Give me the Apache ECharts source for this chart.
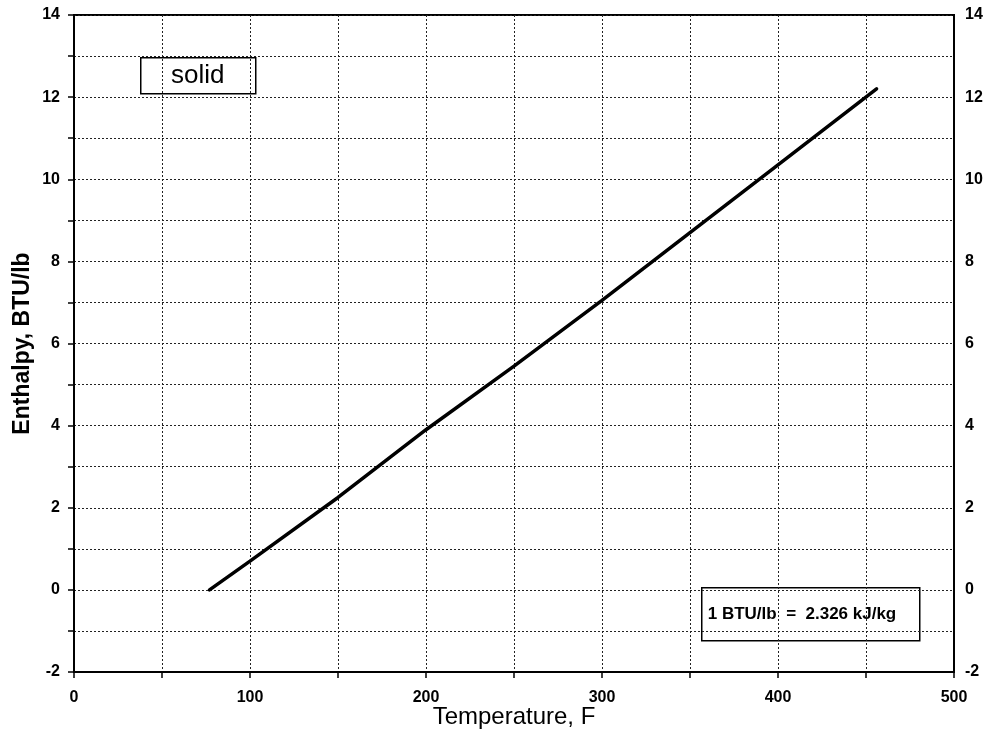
<!DOCTYPE html>
<html>
<head>
<meta charset="utf-8">
<script src="https://cdn.jsdelivr.net/npm/echarts@6/dist/echarts.min.js"></script>
<style>
	html, body { margin: 0; padding: 0; background: #fff; }
	#chart { width: 993px; height: 733px; }
</style>
</head>
<body>
<div id="chart"></div>
<script>
// values
const temperature = [77, 100, 150, 200, 250, 300, 350, 400, 456];
const enthalpy = [0, 0.7, 2.25, 3.9, 5.45, 7.05, 8.7, 10.35, 12.2];

const xMin = 0, xMax = 500, xStep = 50, xLabelStep = 100;
const yMin = -2, yMax = 14, yStep = 1, yLabelStep = 2;

const font = '"Liberation Sans", Arial, sans-serif';

let myChart = echarts.init(document.getElementById('chart'));

const gridLine = {
	show: true,
	lineStyle: { color: '#222', width: 1, type: [2, 2] }
};

function yLabel(v) {
	return (Math.round(v) % yLabelStep === 0) ? String(v) : '';
}

let option = {
	animation: false,
	grid: {
		left: 74, right: 39, top: 15, bottom: 61,
		outerBoundsMode: 'none',
		containLabel: false,
		show: true, borderColor: '#000', borderWidth: 2
	},
	xAxis: [{
		type: 'value',
		min: xMin, max: xMax, interval: xStep,
		name: 'Temperature, F',
		nameLocation: 'middle',
		nameGap: 33,
		nameMoveOverlap: false,
		nameTextStyle: { fontFamily: font, fontSize: 24, color: '#000' },
		axisLine: { show: true, onZero: false, lineStyle: { color: '#000', width: 2 } },
		axisTick: { show: true, length: 6, lineStyle: { color: '#000', width: 1.5 } },
		axisLabel: {
			fontFamily: font, fontSize: 16, fontWeight: 'bold', color: '#000', margin: 18,
			formatter: v => (v % xLabelStep === 0) ? String(v) : ''
		},
		splitLine: gridLine
	}],
	yAxis: [{
		type: 'value',
		min: yMin, max: yMax, interval: yStep,
		name: 'Enthalpy, BTU/lb',
		nameLocation: 'middle',
		nameGap: 40,
		nameMoveOverlap: false,
		nameTextStyle: { fontFamily: font, fontSize: 23, fontWeight: 'bold', color: '#000' },
		axisLine: { show: true, onZero: false, lineStyle: { color: '#000', width: 2 } },
		axisTick: { show: true, length: 6, lineStyle: { color: '#000', width: 1.5 } },
		axisLabel: {
			fontFamily: font, fontSize: 16, fontWeight: 'bold', color: '#000', margin: 14,
			formatter: yLabel
		},
		splitLine: gridLine
	}, {
		type: 'value',
		position: 'right',
		min: yMin, max: yMax, interval: yStep,
		axisLine: { show: true, onZero: false, lineStyle: { color: '#000', width: 2 } },
		axisTick: { show: false },
		axisLabel: {
			fontFamily: font, fontSize: 16, fontWeight: 'bold', color: '#000', margin: 11,
			formatter: yLabel
		},
		splitLine: { show: false }
	}],
	series: [{
		type: 'line',
		data: temperature.map((t, i) => [t, enthalpy[i]]),
		showSymbol: false,
		smooth: false,
		lineStyle: { color: '#000', width: 3.5, cap: 'round' }
	}],
	graphic: [
		{
			type: 'group', left: 140, top: 57,
			children: [
				{ type: 'rect', shape: { x: 0, y: 0, width: 115, height: 36 },
					style: { fill: '#fff', stroke: '#000', lineWidth: 1.5 } },
				{ type: 'text', x: 57, y: 18,
					style: { text: 'solid', font: '26px ' + font, fill: '#000', align: 'center', verticalAlign: 'middle' } }
			]
		},
		{
			type: 'group', left: 701, top: 587,
			children: [
				{ type: 'rect', shape: { x: 0, y: 0, width: 218, height: 53 },
					style: { fill: '#fff', stroke: '#000', lineWidth: 1.5 } },
				{ type: 'text', x: 6, y: 27,
					style: { text: '1 BTU/lb  =  2.326 kJ/kg', font: 'bold 17px ' + font, fill: '#000', align: 'left', verticalAlign: 'middle' } }
			]
		}
	]
};

option && myChart.setOption(option);
</script>
</body>
</html>
